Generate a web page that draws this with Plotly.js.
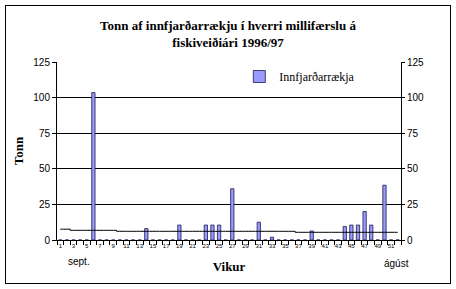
<!DOCTYPE html>
<html>
<head>
<meta charset="utf-8">
<script src="https://cdn.plot.ly/plotly-3.0.1.min.js"></script>
<style>
html,body{margin:0;padding:0;background:#fff;}
#wrap{position:relative;width:456px;height:289px;overflow:hidden;}
#chart{position:absolute;left:0;top:0;width:456px;height:289px;}
#frame{position:absolute;left:5px;top:5px;width:446px;height:279px;border:1px solid #000;box-sizing:border-box;pointer-events:none;}
</style>
</head>
<body>
<div id="wrap"><div id="chart"></div><div id="frame"></div></div>
<script>
// Weeks of the fishing year (1..52)
const weeks = [1,2,3,4,5,6,7,8,9,10,11,12,13,14,15,16,17,18,19,20,21,22,23,24,25,26,
               27,28,29,30,31,32,33,34,35,36,37,38,39,40,41,42,43,44,45,46,47,48,49,50,51,52];
// Tonnes of inshore shrimp per transfer, per week
const tonnes = [0,0,0,0,0,103.5,0,0,0,0,0,0,0,8,0,0,0,0,10.5,0,0,0,10.5,10.5,10.5,0,
                36,0,0,0,12.5,0,2,0,0,0,0,0,6.3,0,0,0,0,9.5,10.5,10.5,20,10.5,0,38.5,0,0];
// Reference line (thin black line)
const refLine = [7.6,7.6,6.8,6.8,6.8,6.8,6.8,6.8,6.8,6.1,6.1,6.1,6.1,6.1,6.1,6.1,6.1,6.1,6.1,6.1,6.1,6.1,6.1,6.1,6.1,6.1,
                 6.1,6.1,6.1,6.1,6.1,6.1,6.1,6.1,6.1,6.1,5.4,5.4,5.4,5.4,5.4,5.4,5.4,5.4,5.4,5.4,5.4,5.4,5.4,5.4,5.4,5.4];
// Tick labels
const weekTickVals = [1,3,5,7,9,11,13,15,17,19,21,23,25,27,29,31,33,35,37,39,41,43,45,47,49,51];
const weekTickText = ['1','3','5','7','9','11','13','15','17','19','21','23','25','27','29','31','33','35','37','39','41','43','45','47','49','51'];
const yTickVals = [0,25,50,75,100,125];
const seriesName = 'Innfjarðarrækja';
const titleText = 'Tonn af innfjarðarrækju í hverri millifærslu á<br>fiskiveiðiári 1996/97';
const startLabel = 'sept.';
const endLabel = 'ágúst';

const serif = '"Times New Roman", "Liberation Serif", serif';
const sans = 'Arial, "Liberation Sans", sans-serif';

const traces = [
  {
    type: 'bar', x: weeks, y: tonnes, name: seriesName,
    marker: {color: '#9999ff', line: {color: '#1a1a4d', width: 0.8}},
    showlegend: true, hoverinfo: 'skip'
  },
  {
    type: 'scatter', mode: 'lines', x: weeks, y: refLine, yaxis: 'y2',
    line: {color: '#000', width: 1, shape: 'hvh'},
    showlegend: false, hoverinfo: 'skip'
  }
];

const layout = {
  width: 456, height: 289,
  margin: {l: 57, r: 55, t: 62, b: 49, pad: 0},
  paper_bgcolor: '#fff', plot_bgcolor: '#fff',
  bargap: 0.5,
  title: {
    text: titleText, x: 0.5, xanchor: 'center', y: 1 - 30/289, yanchor: 'top',
    font: {family: serif, size: 13, color: '#000', weight: 'bold'}
  },
  xaxis: {
    type: 'linear', range: [0.5, 52.5],
    tickmode: 'array', tickvals: weekTickVals, ticktext: weekTickText,
    ticks: '', tickfont: {family: sans, size: 6, color: '#000'},
    minor: {tick0: 0.5, dtick: 1, ticks: 'outside', ticklen: 4, tickcolor: '#000', tickwidth: 1, showgrid: false},
    showline: true, linecolor: '#000', linewidth: 1, showgrid: false, zeroline: false,
    title: {text: 'Vikur', font: {family: serif, size: 13, color: '#000', weight: 'bold'}, standoff: 13}
  },
  yaxis: {
    range: [0, 125], tickmode: 'array', tickvals: yTickVals,
    ticks: 'outside', ticklen: 4, tickcolor: '#000',
    tickfont: {family: sans, size: 10, color: '#000'},
    showline: true, linecolor: '#000', linewidth: 1,
    showgrid: true, gridcolor: '#000', gridwidth: 1, zeroline: false,
    title: {text: 'Tonn', font: {family: serif, size: 13, color: '#000', weight: 'bold'}, standoff: 6}
  },
  yaxis2: {
    overlaying: 'y', side: 'right', range: [0, 125], tickmode: 'array', tickvals: yTickVals,
    ticks: 'outside', ticklen: 3, tickcolor: '#000',
    tickfont: {family: sans, size: 10, color: '#000'},
    showline: true, linecolor: '#000', linewidth: 1, showgrid: false, zeroline: false
  },
  legend: {
    x: 0.53, y: 1.0, xanchor: 'left', yanchor: 'top',
    bgcolor: 'rgba(0,0,0,0)', borderwidth: 0,
    font: {family: serif, size: 12, color: '#000'}
  },
  annotations: [
    {text: startLabel, xref: 'paper', yref: 'paper', x: 0.064, y: -0.118, xanchor: 'center', yanchor: 'middle',
     showarrow: false, font: {family: sans, size: 10, color: '#000'}},
    {text: endLabel, xref: 'paper', yref: 'paper', x: 0.988, y: -0.13, xanchor: 'center', yanchor: 'middle',
     showarrow: false, font: {family: sans, size: 10, color: '#000'}}
  ]
};

Plotly.newPlot('chart', traces, layout, {staticPlot: true, displayModeBar: false});
</script>
</body>
</html>
